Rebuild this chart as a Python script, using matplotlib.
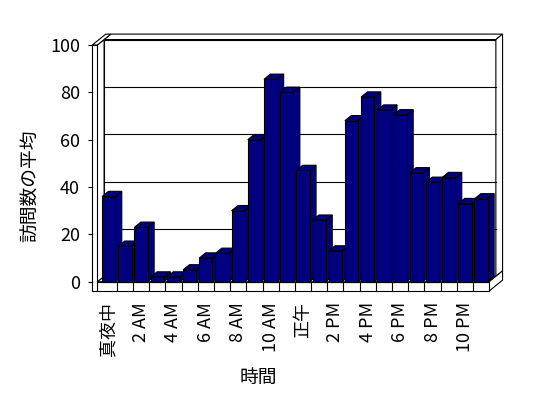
import matplotlib
matplotlib.use('Agg')
import matplotlib.pyplot as plt
from matplotlib.patches import Polygon
import numpy as np

plt.rcParams['font.family'] = ['Noto Sans CJK JP', 'DejaVu Sans']

# 時間帯ごとの訪問数の平均 (0時〜23時)
hours = ['真夜中', '', '2 AM', '', '4 AM', '', '6 AM', '', '8 AM', '', '10 AM', '',
         '正午', '', '2 PM', '', '4 PM', '', '6 PM', '', '8 PM', '', '10 PM', '']
visits = [36, 15, 23, 2, 2, 5, 10, 12, 30, 60, 85.5, 80,
          47, 26, 13, 68, 78, 72.5, 70.5, 46, 42, 44, 33, 35]
yticks = [0, 20, 40, 60, 80, 100]

navy = '#000080'
lw = 0.8
DX, DY = 0.828, 4.6      # 奥行き方向のずれ(全体)
bw = 0.41                # 棒の半幅
bd = 0.48                # 棒の奥行き
wd = 0.5                 # 奥の壁の位置
fl = -3.9                # 床の厚み
xl, xw = -1.013, -0.7    # 左の壁
xr = len(visits) - 0.5

fig = plt.figure(figsize=(5.48, 3.98), dpi=100)
ax = fig.add_axes([92.3/548, (398-291)/398, (502-92.3)/548, (291-33)/398])
ax.set_xlim(xl, (502-108.7)/16.19)
ax.set_ylim(fl, (281.7-33)/2.367)


def poly(pts, fc='white', z=1):
    ax.add_patch(Polygon(pts, closed=True, fc=fc, ec='black', lw=lw,
                         zorder=z, clip_on=False, joinstyle='miter'))


# 奥の壁
poly([(xw+wd*DX, wd*DY), (xr+wd*DX, wd*DY), (xr+wd*DX, 100+wd*DY), (xw+wd*DX, 100+wd*DY)])
for v in yticks[1:-1]:
    ax.plot([xw+wd*DX, xr+wd*DX], [v+wd*DY, v+wd*DY], color='black', lw=lw, zorder=1.5)
poly([(xw+wd*DX, 100+wd*DY), (xr+wd*DX, 100+wd*DY), (xr+DX, 100+DY), (xw+DX, 100+DY)])
poly([(xr+wd*DX, wd*DY), (xr+DX, DY), (xr+DX, 100+DY), (xr+wd*DX, 100+wd*DY)])

# 床
poly([(xw, 0), (xr, 0), (xr+wd*DX, wd*DY), (xw+wd*DX, wd*DY)])
poly([(xr, fl), (xr+DX, fl+DY), (xr+DX, DY), (xr, 0)])
poly([(xw, fl), (xr, fl), (xr, 0), (xw, 0)])
for k in range(len(visits)-1):
    ax.plot([k+0.5, k+0.5], [fl, 0], color='black', lw=lw, zorder=2)

# 左の壁
poly([(xw, 0), (xw+wd*DX, wd*DY), (xw+wd*DX, 100+wd*DY), (xw, 100)])
poly([(xl, 100), (xw, 100), (xw+DX, 100+DY), (xl+DX, 100+DY)])
poly([(xl, fl), (xw, fl), (xw, 100), (xl, 100)])

# 棒
ddx, ddy = bd*DX, bd*DY
for i, h in enumerate(visits):
    z = 3 + i*0.01
    poly([(i+bw, 0), (i+bw+ddx, ddy), (i+bw+ddx, h+ddy), (i+bw, h)], navy, z)
    poly([(i-bw, h), (i+bw, h), (i+bw+ddx, h+ddy), (i-bw+ddx, h+ddy)], navy, z)
    poly([(i-bw, 0), (i+bw, 0), (i+bw, h), (i-bw, h)], navy, z)

for s in ax.spines.values():
    s.set_visible(False)
ax.set_yticks(yticks)
ax.tick_params(axis='y', length=2.9, width=lw, pad=6, labelsize=13)
ax.set_xticks(range(len(hours)))
ax.set_xticklabels(hours, rotation=90, va='top', ha='center')
ax.tick_params(axis='x', length=0, pad=8, labelsize=13)

ax.set_xlabel('時間', fontsize=13.5)
ax.xaxis.set_label_coords((258-92.3)/409.7, (291-367)/258)
ax.set_ylabel('訪問数の平均', fontsize=13.5)
ax.yaxis.set_label_coords((41-92.3)/409.7, (291-186)/258)

fig.savefig('out.png', dpi=100)
